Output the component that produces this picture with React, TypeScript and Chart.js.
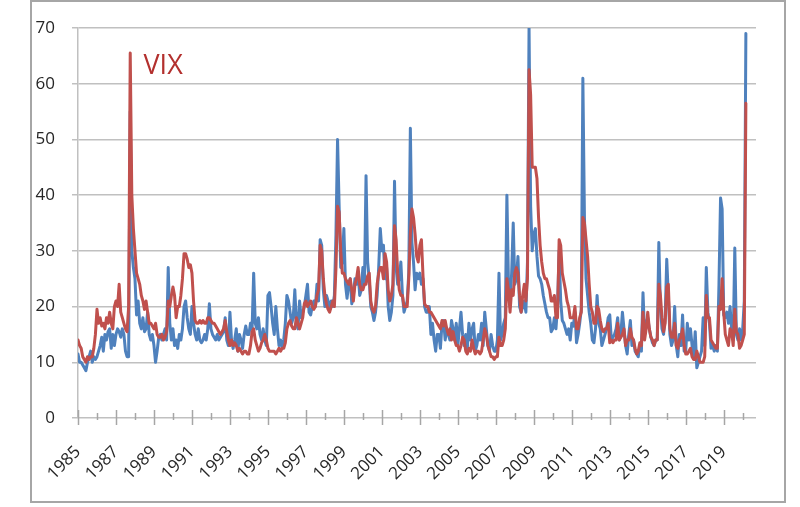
import React, { useEffect, useRef } from "react";
import { Chart, registerables } from "chart.js";

Chart.register(...registerables);

// Monthly observations, starting January 1985
const START_YEAR = 1985;
const X_MIN = 1985;
const X_MAX = 2020.7;
const Y_TICKS = [0, 10, 20, 30, 40, 50, 60, 70];
const YEAR_TICKS = Array.from({ length: 36 }, (_, i) => 1985 + i);
const LABEL_YEARS = [1985, 1987, 1989, 1991, 1993, 1995, 1997, 1999, 2001, 2003, 2005, 2007, 2009, 2011, 2013, 2015, 2017, 2019];
const SERIES_LABEL = "VIX";

const vixValues = [
  14, 13, 12.5, 11, 10.5, 10, 11, 10.5, 11, 11, 12.5, 15,
  19.5, 17, 18, 16.5, 17, 16, 18, 17, 19, 17, 16, 20,
  21, 20, 24, 19, 18, 17, 16, 15.5, 20, 65.5, 40, 34,
  30, 26, 25, 24, 22, 21, 19.5, 21, 19, 17, 17, 16.5,
  16, 17, 15, 14.5, 14.5, 15, 14, 14.5, 15.5, 21, 20, 22,
  23.5, 22, 18, 20, 20, 22, 25, 29.5, 29.5, 28.5, 27, 27.5,
  26, 21, 17.5, 17, 17, 17.5, 17, 17.5, 17, 17, 18, 18,
  17.5, 17, 17, 16.5, 16, 15.5, 15, 15.5, 16, 17.5, 15.5, 14,
  13, 14, 13, 13.5, 13, 12, 12.5, 12, 11.5, 12, 12, 11.5,
  11.5, 13, 15.5, 16, 14, 13, 12, 12.5, 13.5, 14, 15, 14,
  12.5, 12, 12, 12, 12, 11.5, 12, 12.5, 12, 12.5, 12.5, 13.5,
  16, 17, 17.5, 16.5, 16, 16, 18, 17, 16, 17, 18, 20.5,
  21, 20, 20.5, 21, 20, 19.5, 20, 22, 23, 31, 30, 25,
  22, 20.5, 19.5, 19, 20, 21, 20, 27, 38, 37, 30, 26,
  26, 25, 24.5, 24, 25, 23, 21, 24, 25, 27, 24, 23,
  23, 24, 24, 25.5, 26, 21, 19.5, 19, 20, 24, 26, 27,
  27, 25, 29.5, 28, 23, 21, 22, 24, 34.5, 32, 26, 23,
  22, 22, 20, 20, 20, 25, 33, 37.5, 36, 33, 29, 28,
  31, 32, 25.5, 20.5, 20, 20, 19, 19, 18.5, 18, 17.5, 17,
  16.5, 16, 17.5, 16.5, 17.5, 16, 15, 16, 14, 15.5, 14, 13,
  13, 12, 13, 14.5, 14, 12, 11.5, 12.5, 12, 14, 12.5, 11.5,
  12, 12, 11.5, 12, 14, 16, 15, 13, 12, 11, 11, 10.5,
  11, 11, 14.5, 13, 13, 14, 16, 25, 23, 19, 23, 22,
  26, 27, 26, 22, 19, 22, 24, 21, 25, 62.5, 58, 45,
  45, 45, 43, 36, 31, 28, 26, 25, 25, 24, 23, 21,
  21, 22, 18, 18, 32, 31, 26, 24.5, 23, 21, 20, 18,
  18, 18, 20, 16, 16, 18, 19, 36, 35, 32, 29, 24,
  20, 19, 17, 17, 20, 19.5, 17.5, 16, 15.5, 16, 16, 17,
  13.5, 14, 13.5, 14, 14, 17, 14, 14.5, 15, 16, 13, 14,
  14, 16, 14.5, 14, 12.5, 11.5, 12, 13.5, 13, 19, 14, 16,
  19, 16, 14.5, 14, 13, 14, 14, 24, 22, 18, 15.5, 17,
  23.5, 24, 16, 14.5, 14.5, 17, 13, 12.5, 14, 14.5, 16, 13,
  11.5, 11.5, 12, 12.5, 11, 10.5, 10.5, 12, 11, 10, 10, 10,
  11, 22, 18, 18, 14, 13.5, 13, 12.5, 12.5, 20, 19.5, 25,
  19, 15, 14, 13, 16, 15.5, 13, 19.5, 15.5, 15, 12.5, 13,
  14, 15, 56.5,
];

const realizedValues = [
  11.5, 10, 10, 9.5, 9, 8.5, 10, 11, 12, 10, 11, 10.5,
  11, 12, 13, 14.5, 12, 15, 14, 15.5, 16, 12.5, 15, 13,
  15, 16, 15.5, 14.5, 16, 15, 12, 11, 11, 55, 30, 27,
  25, 18.5, 21, 17, 16, 18, 15.5, 16, 19, 15, 14, 15,
  13, 10, 12, 14.5, 15, 14, 15, 16, 14, 27, 17, 14,
  16, 13, 14, 12.5, 15, 14, 16, 20, 21, 18, 16, 15,
  20, 17, 15, 14, 16, 14, 13.5, 14, 15, 14, 16, 20.5,
  16, 15, 14.5, 14, 15, 14, 14.5, 15, 15.5, 18, 14, 13,
  19, 14, 12.5, 14, 16, 12, 15, 14, 12.5, 15, 16.5, 15,
  15, 17, 16, 26, 17, 16, 18, 15, 14, 16, 14, 13,
  22, 22.5, 20, 17, 15, 20, 16, 13, 14, 12.5, 14, 17,
  22, 21, 19, 17, 18, 23, 17, 16, 21, 18, 19, 20,
  22, 24, 19, 18.5, 20, 21, 20, 24, 21, 32, 31, 23,
  20, 22, 21, 19.5, 21, 20, 22, 33, 50, 38, 27, 28,
  34, 24, 21.5, 24, 25, 20.5, 22, 25, 24, 26, 22, 23,
  27, 24, 43.5, 28, 25, 20, 19, 17.5, 19, 22, 27, 34,
  30, 31, 25, 27, 20, 17.5, 19, 22, 42.5, 27, 24, 25,
  28, 22, 19, 20, 21, 26, 52, 31.5, 28, 23, 26, 25,
  26, 24, 25, 20, 19, 19, 20, 15, 17, 14, 12, 15,
  15, 12.5, 17, 17.5, 14, 16, 15, 14, 17.5, 16, 14, 17,
  13, 16, 19, 15, 13, 15, 12.5, 17, 14, 16, 17, 12,
  13, 15, 14, 17, 13, 19, 16, 13, 12, 15, 13, 12,
  12, 14, 26, 14, 15, 17, 18, 40, 24, 20, 26, 35,
  24, 25, 29, 20, 19, 20, 21, 19, 28, 70, 38, 30,
  33, 34, 29, 25.5, 25, 24, 22, 20.5, 19, 18, 18, 15.5,
  16, 18, 16, 20, 30, 21, 17.5, 17, 16, 15, 16, 14,
  17, 16.5, 19, 13.5, 15, 17, 19.5, 61, 36, 25, 22, 19,
  17, 14, 13.5, 16, 22, 17, 16, 13, 14, 15, 16, 18,
  18.5, 14, 14.5, 15, 16, 18, 14, 15, 19, 16, 13, 11.5,
  15, 17.5, 13, 14, 12, 11.5, 11, 13, 12, 22.5, 15, 17,
  18, 16, 14.5, 13.5, 13, 14, 14, 31.5, 20, 16, 15, 18,
  28.5, 22, 15, 13, 14, 20, 13, 11, 15, 13, 18.5, 12,
  12, 17, 14, 16, 13, 11, 15.5, 9, 10, 11, 12, 18,
  13, 27, 19, 17, 12.5, 13, 12, 13, 12, 24, 39.5, 37.5,
  18.5, 18, 19, 17, 20, 16, 14, 30.5, 15, 14, 16, 14,
  16, 21, 69,
];

const toPoints = (vals: number[]) =>
  vals.map((v, i) => ({ x: START_YEAR + i / 12, y: v }));

const FONT = "'Open Sans', 'Liberation Sans', sans-serif";
const GRID = "#c0c0c0";
const BLUE = "#4f81bd";
const RED = "#c0504d";

const yearTicksPlugin = {
  id: "yearTicks",
  afterDraw(chart: any) {
    const xs = chart.scales.x;
    const y0 = chart.chartArea.bottom;
    const ctx = chart.ctx;
    ctx.save();
    ctx.strokeStyle = "#a6a6a6";
    ctx.lineWidth = 1.5;
    ctx.beginPath();
    YEAR_TICKS.forEach((yr) => {
      const px = Math.round(xs.getPixelForValue(yr)) + 0.5;
      const major = LABEL_YEARS.includes(yr);
      ctx.moveTo(px, y0 - (major ? 8 : 5));
      ctx.lineTo(px, y0 + (major ? 7 : 2));
    });
    ctx.stroke();
    ctx.restore();
  },
};

const seriesLabelPlugin = {
  id: "seriesLabel",
  afterDatasetsDraw(chart: any) {
    const xs = chart.scales.x;
    const ys = chart.scales.y;
    const ctx = chart.ctx;
    ctx.save();
    ctx.fillStyle = "#b3302e";
    ctx.font = `27px ${FONT}`;
    ctx.textAlign = "left";
    ctx.textBaseline = "alphabetic";
    ctx.fillText(SERIES_LABEL, xs.getPixelForValue(1988.45), ys.getPixelForValue(61.7));
    ctx.restore();
  },
};

export default function App() {
  const canvasRef = useRef<HTMLCanvasElement | null>(null);

  useEffect(() => {
    if (!canvasRef.current) return;
    const chart = new Chart(canvasRef.current, {
      type: "line",
      data: {
        datasets: [
          {
            label: "VIX",
            data: toPoints(vixValues),
            borderColor: RED,
            borderWidth: 3,
            pointRadius: 0,
            tension: 0,
            fill: false,
            borderJoinStyle: "round",
            borderCapStyle: "round",
            order: 0,
          },
          {
            label: "Realized volatility",
            data: toPoints(realizedValues),
            borderColor: BLUE,
            borderWidth: 3,
            pointRadius: 0,
            tension: 0,
            fill: false,
            borderJoinStyle: "round",
            borderCapStyle: "round",
            order: 1,
          },
        ],
      },
      options: {
        animation: false,
        responsive: true,
        maintainAspectRatio: false,
        layout: { padding: { left: 0, right: 44, top: 28, bottom: 0 } },
        plugins: {
          legend: { display: false },
          tooltip: { enabled: false },
        },
        scales: {
          x: {
            type: "linear",
            min: X_MIN,
            max: X_MAX,
            afterBuildTicks: (scale: any) => {
              scale.ticks = LABEL_YEARS.map((v) => ({ value: v }));
            },
            afterFit: (scale: any) => {
              scale.height = 89;
            },
            ticks: {
              autoSkip: false,
              minRotation: 45,
              maxRotation: 45,
              padding: 24,
              color: "#262626",
              font: { family: FONT, size: 17 },
              callback: (v: any) => String(v),
            },
            grid: { display: false, drawTicks: false },
            border: { display: false },
          },
          y: {
            type: "linear",
            min: 0,
            max: 70,
            afterBuildTicks: (scale: any) => {
              scale.ticks = Y_TICKS.map((v) => ({ value: v }));
            },
            afterFit: (scale: any) => {
              scale.width = 78;
            },
            ticks: {
              padding: 17,
              color: "#262626",
              font: { family: FONT, size: 17 },
            },
            grid: { color: GRID, lineWidth: 1.5, tickLength: 6, tickColor: GRID },
            border: { display: true, color: GRID, width: 1.5 },
          },
        },
      },
      plugins: [yearTicksPlugin, seriesLabelPlugin],
    });
    return () => chart.destroy();
  }, []);

  return (
    <div style={{ position: "absolute", left: 0, top: 0, width: 800, height: 507, background: "#fff" }}>
      <canvas ref={canvasRef} style={{ display: "block" }} />
      <div
        style={{
          position: "absolute",
          left: 30,
          top: 0,
          width: 756,
          height: 503,
          border: "2px solid #a6a6a6",
          boxSizing: "border-box",
          pointerEvents: "none",
        }}
      />
    </div>
  );
}
